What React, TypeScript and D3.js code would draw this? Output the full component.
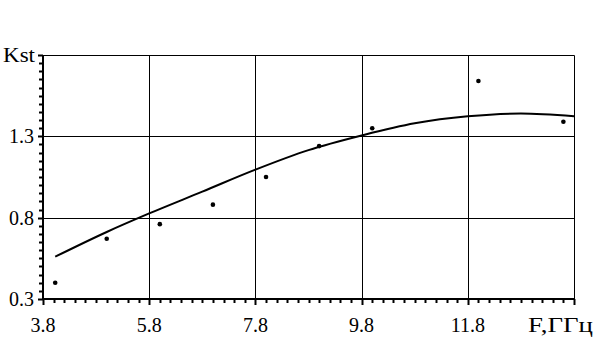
import React, { useEffect, useRef } from "react";
import * as d3 from "d3";

// measured points (F, GHz -> Kst)
const freq = [4.03, 5.0, 6.0, 7.0, 8.0, 9.0, 10.0, 12.0, 13.6];
const kst = [0.4, 0.67, 0.76, 0.88, 1.05, 1.24, 1.35, 1.64, 1.39];

// fitted curve
const fitF = [4.03, 5.0, 5.8, 6.8, 7.8, 8.8, 9.8, 10.8, 11.8, 12.8, 13.8];
const fitK = [0.56, 0.712, 0.826, 0.96, 1.095, 1.215, 1.305, 1.38, 1.423, 1.44, 1.423];

const xTicks = [3.8, 5.8, 7.8, 9.8, 11.8];
const xTickLabels = ["3.8", "5.8", "7.8", "9.8", "11.8"];
const yTicks = [0.3, 0.8, 1.3];
const yTickLabels = ["0.3", "0.8", "1.3"];
const xTitle = "F,ГГц";
const yTitle = "Kst";

const App: React.FC = () => {
	const ref = useRef<SVGSVGElement | null>(null);

	useEffect(() => {
		if (!ref.current) return;
		const width = 606;
		const height = 345;
		const margin = { top: 55, right: 32, bottom: 46, left: 43 };

		const svg = d3.select(ref.current);
		svg.selectAll("*").remove();

		const x = d3
			.scaleLinear()
			.domain([3.8, 13.8])
			.range([margin.left, width - margin.right]);
		const y = d3
			.scaleLinear()
			.domain([0.3, 1.8])
			.range([height - margin.bottom, margin.top]);

		const font = "'Liberation Serif', serif";

		// grid
		svg.append("g")
			.selectAll("line")
			.data(xTicks.slice(1))
			.enter()
			.append("line")
			.attr("x1", (d) => Math.round(x(d)) + 0.5)
			.attr("x2", (d) => Math.round(x(d)) + 0.5)
			.attr("y1", y(0.3))
			.attr("y2", y(1.8))
			.attr("stroke", "#000")
			.attr("stroke-width", 1);
		svg.append("g")
			.selectAll("line")
			.data(yTicks.slice(1))
			.enter()
			.append("line")
			.attr("y1", (d) => Math.round(y(d)) + 0.5)
			.attr("y2", (d) => Math.round(y(d)) + 0.5)
			.attr("x1", x(3.8))
			.attr("x2", x(13.8))
			.attr("stroke", "#000")
			.attr("stroke-width", 1);

		// frame top / right
		svg.append("path")
			.attr(
				"d",
				`M${x(3.8)},${y(1.8) + 0.5}H${x(13.8) + 0.5}V${y(0.3)}`
			)
			.attr("fill", "none")
			.attr("stroke", "#000")
			.attr("stroke-width", 1);

		// minor ticks
		const xMinor = d3.range(0, 51).map((i) => 3.8 + i * 0.2);
		svg.append("g")
			.selectAll("line")
			.data(xMinor)
			.enter()
			.append("line")
			.attr("x1", (d) => Math.round(x(d)) + 0.5)
			.attr("x2", (d) => Math.round(x(d)) + 0.5)
			.attr("y1", y(0.3))
			.attr("y2", (_, i) => y(0.3) + (i % 10 === 0 ? 6 : 4))
			.attr("stroke", "#000")
			.attr("stroke-width", 2);

		const yMinor = d3.range(0, 31).map((i) => 0.3 + i * 0.05);
		svg.append("g")
			.selectAll("line")
			.data(yMinor)
			.enter()
			.append("line")
			.attr("y1", (d) => Math.round(y(d)) + 0.5)
			.attr("y2", (d) => Math.round(y(d)) + 0.5)
			.attr("x1", x(3.8))
			.attr("x2", (_, i) => x(3.8) - (i % 10 === 0 ? 5 : 4))
			.attr("stroke", "#000")
			.attr("stroke-width", 2);

		// axes
		svg.append("line")
			.attr("x1", x(3.8))
			.attr("x2", x(3.8))
			.attr("y1", y(0.3) + 1)
			.attr("y2", y(1.8))
			.attr("stroke", "#000")
			.attr("stroke-width", 2);
		svg.append("line")
			.attr("x1", x(3.8) - 1)
			.attr("x2", x(13.8) + 1)
			.attr("y1", y(0.3))
			.attr("y2", y(0.3))
			.attr("stroke", "#000")
			.attr("stroke-width", 2);

		// fit curve
		const line = d3
			.line<number>()
			.x((d) => x(d))
			.y((_, i) => y(fitK[i]))
			.curve(d3.curveMonotoneX);
		svg.append("path")
			.datum(fitF)
			.attr("d", line)
			.attr("fill", "none")
			.attr("stroke", "#000")
			.attr("stroke-width", 2);

		// points
		svg.append("g")
			.selectAll("circle")
			.data(freq)
			.enter()
			.append("circle")
			.attr("cx", (d) => x(d))
			.attr("cy", (_, i) => y(kst[i]))
			.attr("r", 2.3)
			.attr("fill", "#000");

		// labels
		svg.append("g")
			.selectAll("text")
			.data(xTicks)
			.enter()
			.append("text")
			.attr("x", (d) => x(d))
			.attr("y", 332)
			.attr("text-anchor", "middle")
			.style("font-family", font)
			.style("font-size", "20px")
			.text((_, i) => xTickLabels[i]);
		svg.append("text")
			.attr("x", 528)
			.attr("y", 332)
			.style("font-family", font)
			.style("font-size", "21px")
			.attr("textLength", 65)
			.attr("lengthAdjust", "spacingAndGlyphs")
			.text(xTitle);

		svg.append("g")
			.selectAll("text")
			.data(yTicks)
			.enter()
			.append("text")
			.attr("x", 34)
			.attr("y", (d) => y(d) + 7)
			.attr("text-anchor", "end")
			.style("font-family", font)
			.style("font-size", "20px")
			.text((_, i) => yTickLabels[i]);
		svg.append("text")
			.attr("x", 35)
			.attr("y", y(1.8) + 7)
			.attr("text-anchor", "end")
			.attr("textLength", 32)
			.attr("lengthAdjust", "spacingAndGlyphs")
			.style("font-family", font)
			.style("font-size", "22px")
			.text(yTitle);
	}, []);

	return (
		<svg
			ref={ref}
			width={606}
			height={345}
			style={{ position: "absolute", left: 0, top: 0, background: "#fff" }}
		/>
	);
};

export default App;
